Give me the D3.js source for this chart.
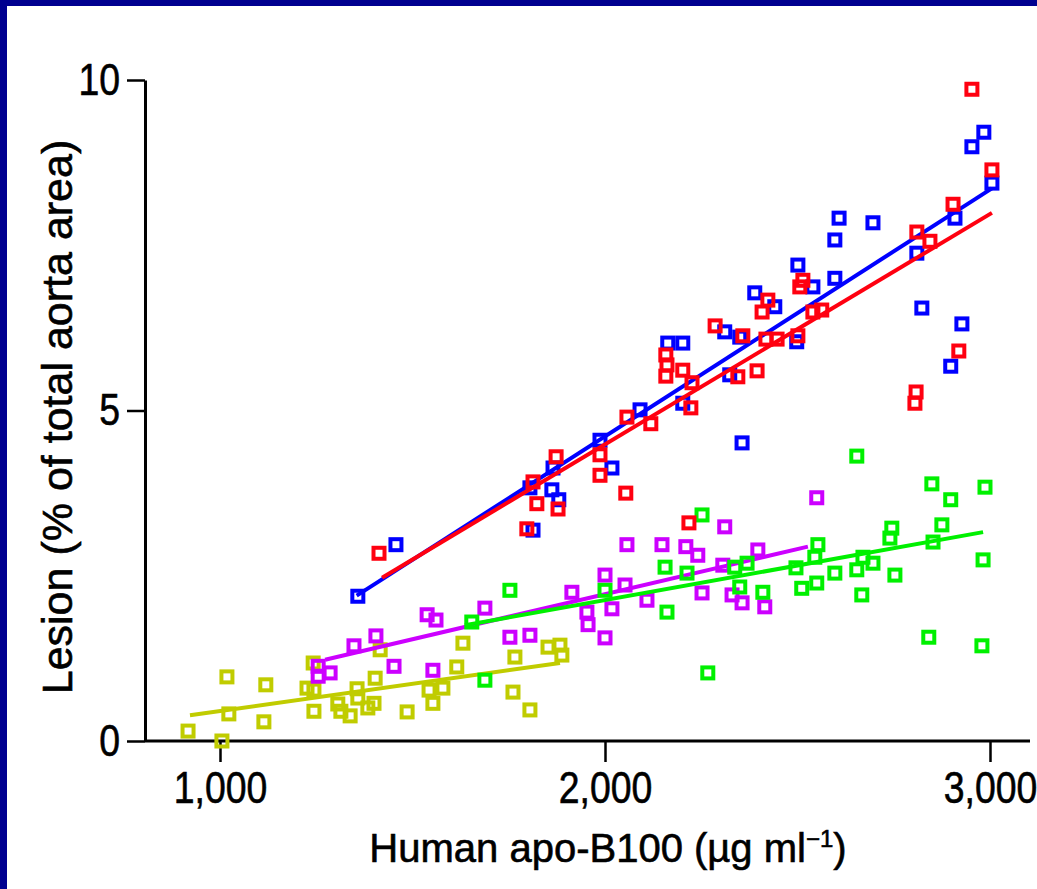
<!DOCTYPE html>
<html>
<head>
<meta charset="utf-8">
<script src="https://cdn.jsdelivr.net/npm/d3@7/dist/d3.min.js"></script>
<style>
  html, body { margin: 0; padding: 0; background: #ffffff; }
  svg { display: block; }
  text { font-family: "Liberation Sans", Arial, Helvetica, sans-serif; fill: #000; stroke: #000; stroke-width: 0.6px; }
</style>
</head>
<body>
<svg id="chart" width="1037" height="889"></svg>
<script>
// Human apo-B100 (µg/ml) vs lesion (% of total aorta area), five mouse groups.
const xTicks = [1000, 2000, 3000];
const xTickLabels = ["1,000", "2,000", "3,000"];
const yTicks = [0, 5, 10];
const yTickLabels = ["0", "5", "10"];

const seriesNames = ["yellow", "magenta", "green", "blue", "red"];
const seriesColors = ["#c0cc00", "#cc00ff", "#00f000", "#0000ff", "#ff0010"];

// [apo-B100, lesion]
const yellowPoints = [
  [917, 0.15], [1005, 0.0], [1018, 0.97], [1023, 0.41], [1114, 0.29], [1119, 0.85],
  [1226, 0.80], [1242, 1.18], [1244, 0.77], [1244, 0.45], [1306, 0.56], [1314, 0.45],
  [1338, 0.38], [1356, 0.79], [1358, 0.65], [1384, 0.50], [1400, 0.57], [1403, 0.95],
  [1416, 1.38], [1486, 0.44], [1543, 0.77], [1553, 0.57], [1579, 0.80], [1615, 1.12],
  [1631, 1.48], [1761, 0.74], [1766, 1.27], [1805, 0.47], [1852, 1.42], [1883, 1.45],
  [1888, 1.30]
];
const magentaPoints = [
  [1255, 1.13], [1255, 0.98], [1286, 1.03], [1348, 1.44], [1405, 1.59], [1452, 1.13],
  [1538, 1.91], [1561, 1.83], [1553, 1.07], [1688, 2.01], [1753, 1.57], [1805, 1.60],
  [1914, 2.25], [1953, 1.95], [1956, 1.76], [2000, 2.51], [2000, 1.56], [2018, 2.00],
  [2052, 2.36], [2057, 2.97], [2109, 2.13], [2148, 2.97], [2210, 2.94], [2241, 2.81],
  [2252, 2.24], [2306, 2.66], [2311, 3.24], [2330, 2.21], [2356, 2.09], [2397, 2.89],
  [2415, 2.03], [2550, 3.68]
];
const greenPoints = [
  [1654, 1.80], [1688, 0.92], [1753, 2.28], [2000, 2.28], [2156, 2.63], [2161, 1.95],
  [2213, 2.54], [2267, 1.03], [2252, 3.42], [2337, 2.63], [2369, 2.69], [2350, 2.33],
  [2410, 2.25], [2496, 2.62], [2511, 2.31], [2545, 2.78], [2553, 2.97], [2550, 2.39],
  [2597, 2.54], [2654, 4.31], [2654, 2.59], [2667, 2.21], [2670, 2.78], [2696, 2.69],
  [2740, 3.07], [2745, 3.22], [2753, 2.51], [2841, 1.57], [2849, 3.89], [2852, 3.01],
  [2875, 3.27], [2898, 3.65], [2982, 2.74], [2987, 3.84], [2979, 1.44]
];
const bluePoints = [
  [1358, 2.19], [1457, 2.97], [1805, 3.83], [1813, 3.19], [1862, 3.80], [1865, 4.13],
  [1880, 3.65], [1987, 4.55], [2018, 4.13], [2091, 5.01], [2163, 6.02], [2202, 6.02],
  [2202, 5.11], [2311, 6.19], [2324, 5.54], [2350, 6.11], [2356, 4.51], [2389, 6.78],
  [2441, 6.57], [2498, 6.04], [2501, 7.20], [2540, 6.87], [2597, 7.00], [2597, 7.58],
  [2608, 7.91], [2696, 7.84], [2810, 7.38], [2823, 6.55], [2898, 5.67], [2909, 7.91],
  [2927, 6.31], [2953, 8.99], [2984, 9.21], [3005, 8.44]
];
const redPoints = [
  [1413, 2.84], [1797, 3.21], [1813, 3.92], [1823, 3.59], [1873, 4.30], [1878, 3.51],
  [1987, 4.33], [1987, 4.02], [2054, 3.75], [2057, 4.90], [2119, 4.80], [2158, 5.84],
  [2158, 5.52], [2161, 5.69], [2202, 5.61], [2218, 3.30], [2226, 5.42], [2223, 5.04],
  [2286, 6.28], [2345, 5.51], [2358, 6.13], [2395, 5.60], [2408, 6.49], [2418, 6.08],
  [2423, 6.67], [2447, 6.08], [2501, 6.13], [2506, 6.87], [2514, 6.97], [2540, 6.49],
  [2563, 6.52], [2805, 5.11], [2808, 5.28], [2810, 7.70], [2844, 7.56], [2904, 8.12],
  [2919, 5.90], [2953, 9.86], [3005, 8.64]
];

// Fitted regression lines: [start, end]
const yellowFit = [[922, 0.39], [1883, 1.18]];
const magentaFit = [[1273, 1.23], [2527, 2.94]];
const greenFit = [[1636, 1.75], [2982, 3.16]];
const blueFit = [[1355, 2.20], [3005, 8.36]];
const redFit = [[1421, 2.47], [3005, 7.99]];

const seriesPoints = [yellowPoints, magentaPoints, greenPoints, bluePoints, redPoints];
const seriesFits = [yellowFit, magentaFit, greenFit, blueFit, redFit];

const svg = d3.select("#chart");
const W = 1037, H = 889;

svg.append("rect").attr("width", W).attr("height", H).attr("fill", "#ffffff");
// navy frame on top and left
svg.append("rect").attr("x", 0).attr("y", 0).attr("width", W).attr("height", 6).attr("fill", "#000090");
svg.append("rect").attr("x", 0).attr("y", 0).attr("width", 7).attr("height", H).attr("fill", "#000090");

const x = d3.scaleLinear().domain([1000, 3000]).range([220, 990]);
const y = d3.scaleLinear().domain([0, 10]).range([741, 80]);
const xLeft = x.invert(145), xRight = x.invert(1030);

// tick labels use a tall, condensed face
const tickFont = 44, squeeze = 0.85;

const xAxis = d3.axisBottom(x).tickValues(xTicks).tickFormat((d, i) => xTickLabels[i])
  .tickSizeInner(21).tickSizeOuter(0).tickPadding(10);
const gx = svg.append("g").attr("transform", `translate(0,${y(0)})`).call(xAxis);
gx.select(".domain").remove();
gx.append("line").attr("x1", x(xLeft)).attr("x2", x(xRight)).attr("y1", 0).attr("y2", 0)
  .attr("stroke", "#000").attr("stroke-width", 3);
gx.selectAll(".tick line").attr("stroke", "#000").attr("stroke-width", 2.5);
gx.selectAll(".tick text").attr("font-size", tickFont).attr("fill", "#000")
  .attr("transform", `scale(${squeeze},1)`)
  .style("font-family", '"Liberation Sans", Arial, Helvetica, sans-serif');

const yAxis = d3.axisLeft(y).tickValues(yTicks).tickFormat((d, i) => yTickLabels[i])
  .tickSizeInner(18).tickSizeOuter(0).tickPadding(8);
const gy = svg.append("g").attr("transform", `translate(${x(xLeft)},0)`).call(yAxis);
gy.select(".domain").attr("stroke", "#000").attr("stroke-width", 3);
gy.selectAll(".tick line").attr("stroke", "#000").attr("stroke-width", 2.5);
gy.selectAll(".tick text").attr("font-size", tickFont).attr("fill", "#000")
  .attr("x", -25 / squeeze)
  .attr("transform", `scale(${squeeze},1)`)
  .style("font-family", '"Liberation Sans", Arial, Helvetica, sans-serif');

// axis titles
const xt = svg.append("text").attr("x", 608).attr("y", 862).attr("text-anchor", "middle")
  .attr("font-size", 40);
xt.append("tspan").text("Human apo-B100 (\u00b5g ml");
xt.append("tspan").attr("font-size", 24).attr("dy", -15).text("\u22121");
xt.append("tspan").attr("dy", 15).text(")");

svg.append("text").attr("transform", "translate(72,417) rotate(-90)")
  .attr("text-anchor", "middle").attr("font-size", 43)
  .text("Lesion (% of total aorta area)");

// series: open squares and fitted line
const line = d3.line().x(d => x(d[0])).y(d => y(d[1]));
const side = 11;
seriesNames.forEach((name, i) => {
  const g = svg.append("g").attr("class", "series-" + name);
  g.selectAll("rect").data(seriesPoints[i]).join("rect")
    .attr("x", d => x(d[0]) - side / 2)
    .attr("y", d => y(d[1]) - side / 2)
    .attr("width", side).attr("height", side)
    .attr("fill", "none").attr("stroke", seriesColors[i]).attr("stroke-width", 4);
  g.append("path").datum(seriesFits[i]).attr("d", line)
    .attr("fill", "none").attr("stroke", seriesColors[i]).attr("stroke-width", 4);
});
</script>
</body>
</html>
